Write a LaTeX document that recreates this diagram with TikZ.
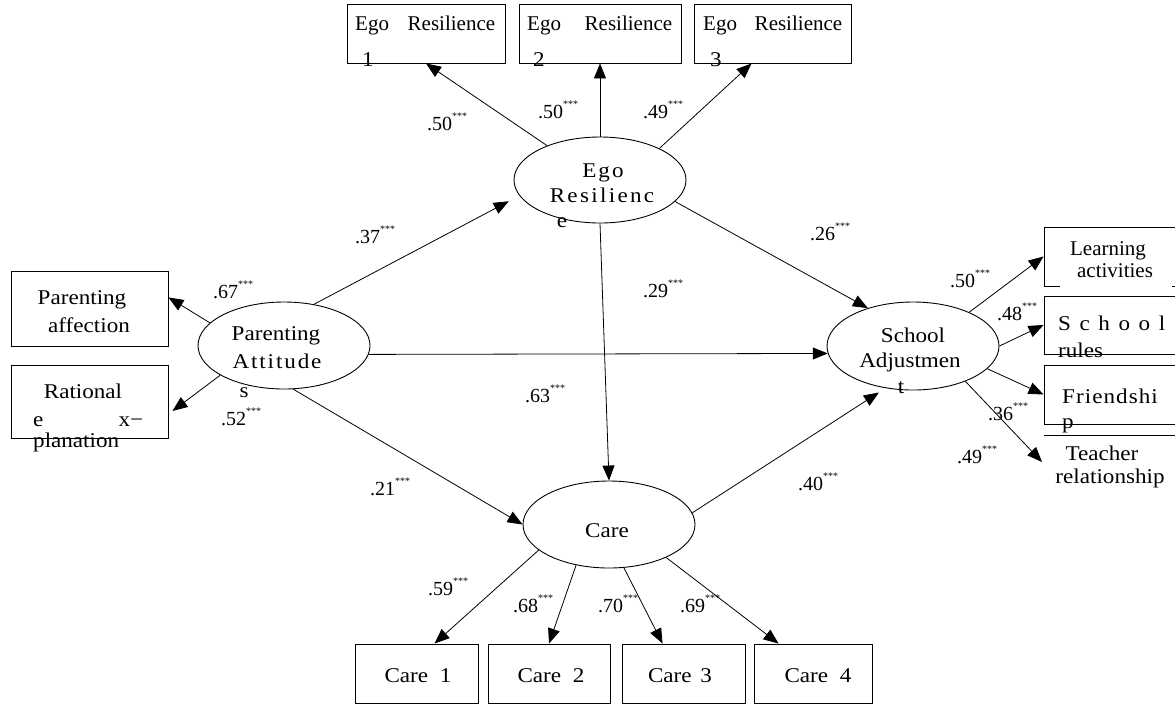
\documentclass[tikz,border=0pt]{standalone}
\usepackage{fontspec}
\setmainfont{Liberation Serif}
\newfontfamily\widefont{Liberation Serif}[FakeStretch=1.1]
\usetikzlibrary{shapes.geometric,arrows.meta}

\newcommand{\stars}{\raisebox{11pt}{\fontsize{10}{10}\selectfont ***}}

\tikzset{
  latent/.style={draw, ellipse, line width=0.9pt, inner sep=0pt, minimum width=172pt},
  indicator/.style={draw, line width=0.9pt, inner sep=0pt, minimum height=59pt},
  txt/.style={inner sep=0pt, anchor=base, font=\widefont\fontsize{21}{25}\selectfont},
  ltxt/.style={txt, anchor=base west},
  tnr/.style={inner sep=0pt, anchor=base west, font=\fontsize{21}{25}\selectfont},
  spaced/.style={txt, font=\widefont\fontsize{21}{25}\selectfont\addfontfeatures{LetterSpace=#1}},
  coef/.style={inner sep=0pt, anchor=base west, font=\fontsize{20}{24}\selectfont},
  link/.style={line width=0.8pt, -{Triangle[length=15pt,width=12pt]}},
}

\begin{document}
\begin{tikzpicture}[x=1pt,y=-1pt]

\useasboundingbox (0,0) rectangle (1175,705);
\clip (0,0) rectangle (1175,705);

% latent variables
\node[latent, minimum height=86pt] (er) at (600,180) {};
\node[latent, minimum height=87pt] (pa) at (284,345.5) {};
\node[latent, minimum height=88pt] (sa) at (913,346) {};
\node[latent, minimum height=87pt] (care) at (609,524.5) {};

% observed variables
\node[indicator, minimum width=158pt] (er1) at (426,33.5) {};
\node[indicator, minimum width=162pt] (er2) at (600,33.5) {};
\node[indicator, minimum width=157pt] (er3) at (772.5,33.5) {};
\node[indicator, minimum width=157pt, minimum height=75pt] (paf) at (89.5,308.5) {};
\node[indicator, minimum width=157pt, minimum height=73pt] (rat) at (89.5,401.5) {};
\node[indicator, minimum width=132pt] (lrn) at (1110,256.5) {};
\node[indicator, minimum width=132pt, minimum height=58pt] (rul) at (1110,325) {};
\node[indicator, minimum width=132pt] (frd) at (1110,394.5) {};
\node[indicator, minimum width=123pt] (c1) at (416.5,673.5) {};
\node[indicator, minimum width=122pt] (c2) at (549,673.5) {};
\node[indicator, minimum width=123pt] (c3) at (683.5,673.5) {};
\node[indicator, minimum width=118pt] (c4) at (813,673.5) {};
\fill[white] (1060,283) rectangle (1172,290); % gap under activities
\draw[line width=0.9pt] (1044,435) -- (1175,435); % teacher item, no box
\coordinate (tch) at (1042,462);

% texts in the ellipses
\node[spaced=10] (ert1) at (603,177) {Ego};
\node[spaced=11] (ert2) at (602,202) {Resilienc};
\node[txt] (ert3) at (562,227) {e};
\node[txt] (pat1) at (276,340) {Parenting};
\node[spaced=9] (pat2) at (277,368) {Attitude};
\node[txt] (pat3) at (244,397) {s};
\node[txt] (sat1) at (913,342) {School};
\node[txt] (sat2) at (910,367) {Adjustmen};
\node[txt] (sat3) at (901,393) {t};
\node[txt] (caret) at (607,537) {Care};

% texts in the boxes
\node[tnr] (er1a) at (355,30) {\makebox[140pt][s]{Ego\hfill Resilience}};
\node[txt] (er1b) at (368,66) {1};
\node[tnr] (er2a) at (527,30) {\makebox[145pt][s]{Ego\hfill Resilience}};
\node[txt] (er2b) at (539,66) {2};
\node[tnr] (er3a) at (703,30) {\makebox[139pt][s]{Ego\hfill Resilience}};
\node[txt] (er3b) at (716,66) {3};
\node[txt] (paf1) at (82,304) {Parenting};
\node[txt] (paf2) at (89,332) {affection};
\node[txt] (rat1) at (83,398) {Rational};
\node[ltxt] (rat2) at (33,426) {\makebox[110pt][s]{e\hfill x−}};
\node[ltxt] (rat3) at (33,447) {planation};
\node[tnr, anchor=base] (lrn1) at (1108,255) {Learning};
\node[tnr, anchor=base] (lrn2) at (1115,277) {activities};
\node[ltxt] (rul1) at (1058,330) {\makebox[107pt][s]{S\hfill c\hfill h\hfill o\hfill o\hfill l}};
\node[ltxt] (rul2) at (1058,357) {rules};
\node[spaced=5, anchor=base west] (frd1) at (1062,403) {Friendshi};
\node[ltxt] (frd2) at (1062,428) {p};
\node[txt] (tch1) at (1102,460) {Teacher};
\node[txt] (tch2) at (1110,483) {relationship};
\node[txt] (c1t) at (418,682) {\makebox[67pt][s]{Care\hfill 1}};
\node[txt] (c2t) at (551,682) {\makebox[67pt][s]{Care\hfill 2}};
\node[txt] (c3t) at (680,682) {\makebox[64pt][s]{Care\hfill 3}};
\node[txt] (c4t) at (818,682) {\makebox[67pt][s]{Care\hfill 4}};

% paths
\draw[link] (er.147) -- (er1.south);
\draw[link] (er.north) -- (er2.south);
\draw[link] (er.28) -- (er3.235);
\draw[link, shorten >=12pt] (pa.54) -- (er.191);
\draw[link] (er.-16) -- (sa.140);
\draw[link] (er.south) -- (care.north);
\draw[link] (pa.-6) -- (sa.185);
\draw[link] (pa.-78) -- (care.west);
\draw[link, shorten >=8pt] (care.8) -- (sa.237);
\draw[link] (pa.163) -- (paf.8);
\draw[link, shorten >=5pt] (pa.205) -- (rat.-9);
\draw[link] (sa.31) -- (lrn.west);
\draw[link] (sa.east) -- (rul.west);
\draw[link] (sa.-17) -- (frd.west);
\draw[link] (sa.-34) -- (tch);
\draw[link] (care.200) -- (c1.59);
\draw[link] (care.231) -- (c2.north);
\draw[link] (care.-71) -- (c3.125);
\draw[link] (care.-30) -- (c4.139);

% standardized estimates
\node[coef] (k1) at (427,130) {.50\stars};
\node[coef] (k2) at (538,118) {.50\stars};
\node[coef] (k3) at (643,118) {.49\stars};
\node[coef] (k4) at (355,243) {.37\stars};
\node[coef] (k5) at (213,298) {.67\stars};
\node[coef] (k6) at (221,425) {.52\stars};
\node[coef] (k7) at (810,240) {.26\stars};
\node[coef] (k8) at (643,297) {.29\stars};
\node[coef] (k9) at (525,402) {.63\stars};
\node[coef] (k10) at (370,495) {.21\stars};
\node[coef] (k11) at (798,490) {.40\stars};
\node[coef] (k12) at (950,287) {.50\stars};
\node[coef] (k13) at (997,320) {.48\stars};
\node[coef] (k14) at (988,420) {.36\stars};
\node[coef] (k15) at (957,463) {.49\stars};
\node[coef] (k16) at (428,595) {.59\stars};
\node[coef] (k17) at (513,612) {.68\stars};
\node[coef] (k18) at (598,612) {.70\stars};
\node[coef] (k19) at (680,612) {.69\stars};

\end{tikzpicture}
\end{document}
